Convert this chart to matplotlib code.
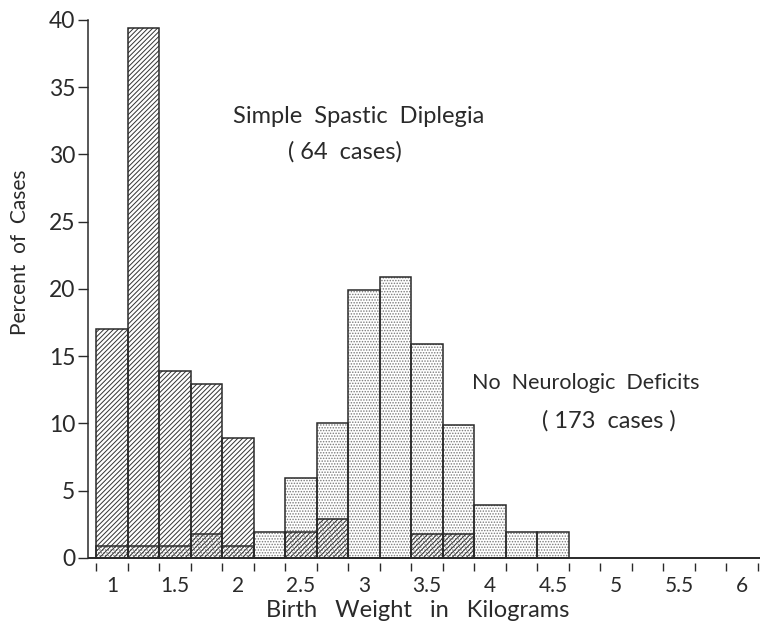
import matplotlib
matplotlib.use("Agg")
import matplotlib.pyplot as plt
import numpy as np

# ---- data ----
weights = [1.0, 1.25, 1.5, 1.75, 2.0, 2.25, 2.5, 2.75, 3.0, 3.25, 3.5, 3.75, 4.0, 4.25, 4.5]
diplegia_pct = [17.0, 39.4, 13.9, 12.9, 8.9, 0, 1.9, 2.9, 0, 0, 1.8, 1.8, 0, 0, 0]
normal_pct = [0.9, 0.9, 0.9, 1.8, 0.9, 1.9, 5.9, 10.0, 19.9, 20.9, 15.9, 9.9, 3.9, 1.9, 1.9]
xtick_vals = [1, 1.5, 2, 2.5, 3, 3.5, 4, 4.5, 5, 5.5, 6]
xtick_labels = ["1", "1.5", "2", "2.5", "3", "3.5", "4", "4.5", "5", "5.5", "6"]
ytick_vals = [0, 5, 10, 15, 20, 25, 30, 35, 40]
bin_width = 0.25

FONT = ["Lato", "DejaVu Sans"]
plt.rcParams["font.family"] = FONT
plt.rcParams["font.weight"] = "normal"
plt.rcParams["hatch.linewidth"] = 0.7

INK = "#2a2a2a"

fig = plt.figure(figsize=(7.6, 6.21), dpi=100)
ax = fig.add_axes([88 / 760, 1 - 571 / 621, 672 / 760, (571 - 20) / 621])

ax.set_xlim(0.8095, 6.143)
ax.set_ylim(-0.98, 40)

# dotted bars (No Neurologic Deficits)
ax.bar(weights, normal_pct, width=bin_width, facecolor="white", edgecolor="#7a7a7a",
       linewidth=0, hatch="......", zorder=2)
# hatched bars (Simple Spastic Diplegia)
ax.bar(weights, diplegia_pct, width=bin_width, facecolor="none", edgecolor="#333333",
       linewidth=0, hatch="///////", zorder=3)
# outlines
ax.bar(weights, normal_pct, width=bin_width, facecolor="none", edgecolor=INK,
       linewidth=1.1, zorder=4)
ax.bar(weights, diplegia_pct, width=bin_width, facecolor="none", edgecolor=INK,
       linewidth=1.1, zorder=4)

# baseline
ax.axhline(0, color=INK, linewidth=1.4, zorder=5)

# spines
for s in ["top", "right", "bottom"]:
    ax.spines[s].set_visible(False)
ax.spines["left"].set_bounds(0, 40)
ax.spines["left"].set_linewidth(1.1)
ax.spines["left"].set_color(INK)

# y ticks
ax.set_yticks(ytick_vals)
ax.set_yticklabels([str(v) for v in ytick_vals])
ax.tick_params(axis="y", direction="out", length=7, width=1.0, pad=2,
               labelsize=16.5, colors=INK)

# x ticks: labels at centers, marks at bin edges
edges = np.arange(weights[0] - bin_width / 2, 6.2, bin_width)
ax.set_xticks(xtick_vals)
ax.set_xticklabels(xtick_labels)
ax.set_xticks(edges, minor=True)
ax.tick_params(axis="x", which="major", length=0, pad=3.5, labelsize=15, colors=INK)
ax.tick_params(axis="x", which="minor", direction="in", length=5.5, width=1.0,
               colors=INK)

fig.text(418 / 760, 1 - 617 / 621, "Birth   Weight   in   Kilograms", fontsize=17,
         ha="center", va="baseline", color=INK)
fig.text(20 / 760, 1 - 252 / 621, "Percent  of  Cases", rotation=90, fontsize=15,
         ha="center", va="center", color=INK)

ax.text(2.96, 32.8, "Simple  Spastic  Diplegia", fontsize=17, ha="center", va="center",
        color=INK)
ax.text(2.85, 30.2, "( 64  cases)", fontsize=17, ha="center", va="center", color=INK)
ax.text(4.76, 13.0, "No  Neurologic  Deficits", fontsize=15.5, ha="center", va="center",
        color=INK)
ax.text(4.94, 10.2, "( 173  cases )", fontsize=17, ha="center", va="center", color=INK)

fig.savefig("out.png", dpi=100)
